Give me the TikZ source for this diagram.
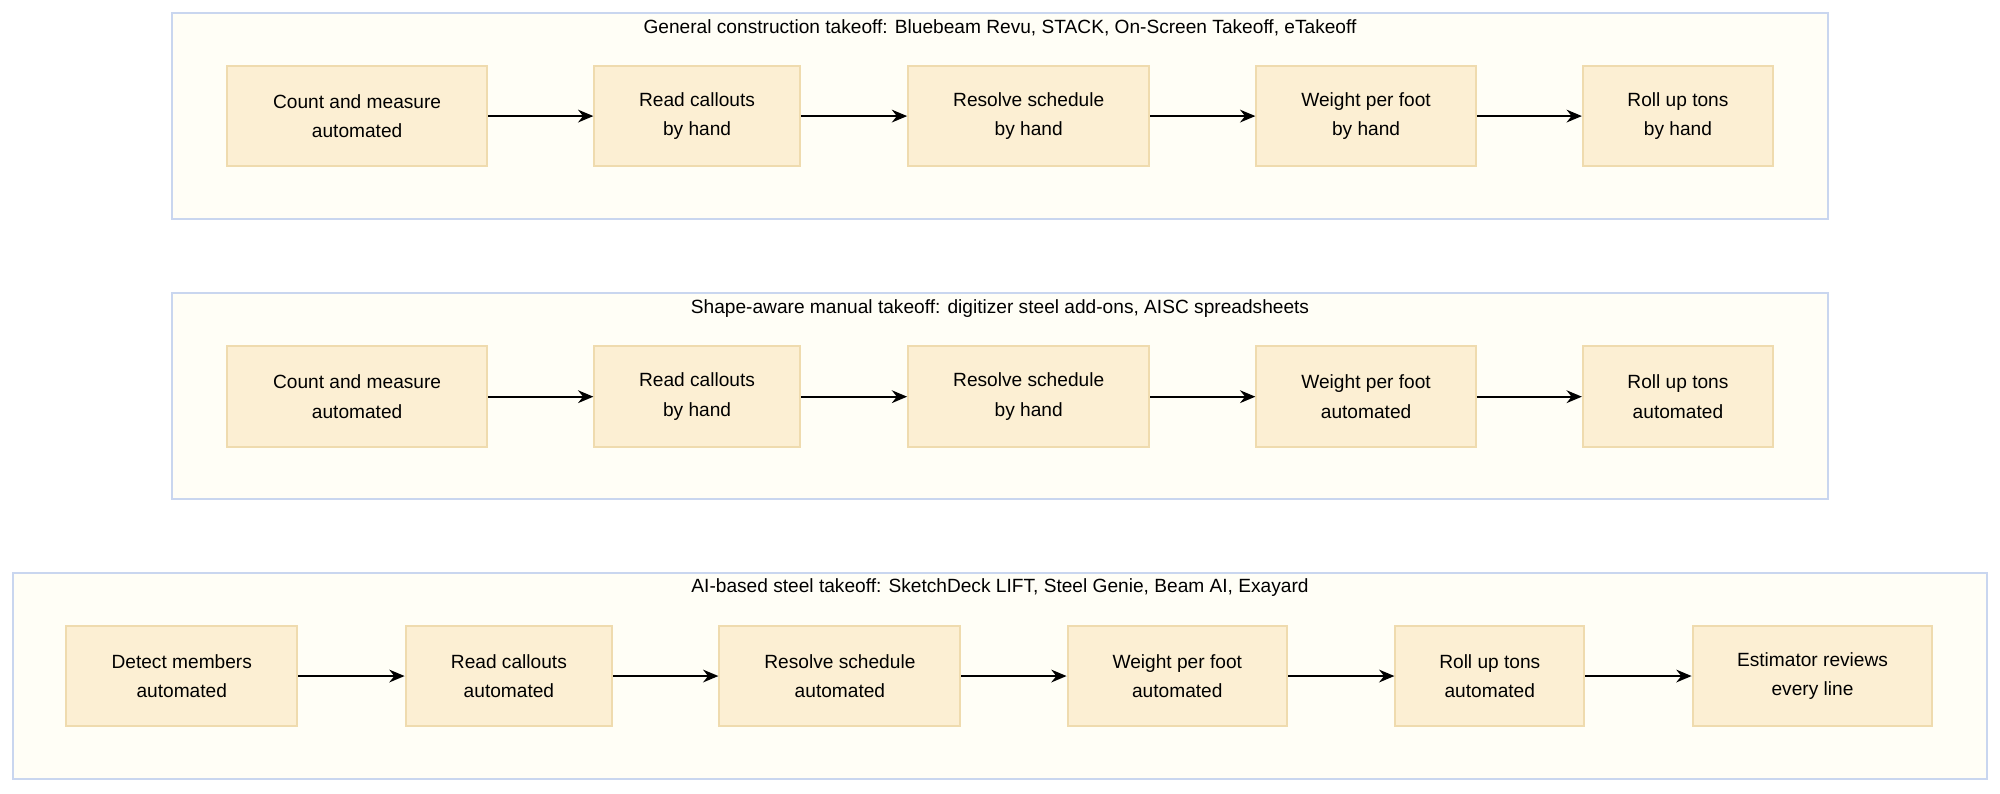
\documentclass[tikz,border=0pt]{standalone}
\usepackage{fontspec}
\setmainfont{Liberation Sans}
\usetikzlibrary{arrows.meta}
\definecolor{grpfill}{HTML}{FFFEF6}
\definecolor{grpline}{HTML}{C9D6EF}
\definecolor{stepfill}{HTML}{FCEFD3}
\definecolor{stepline}{HTML}{EFDBAE}
\tikzset{
  grp/.style={draw=grpline, fill=grpfill, line width=0.8pt},
  grptitle/.style={font=\fontsize{7.5}{9}\selectfont},
  stepbox/.style={draw=stepline, fill=stepfill, line width=0.8pt, minimum height=39.5pt,
    align=center, font=\fontsize{7.5}{11.5}\selectfont, inner sep=0pt},
  flow/.style={-{Stealth[length=6pt,width=5pt]}, line width=0.7pt},
}
\begin{document}
\begin{tikzpicture}[x=0.5pt, y=-0.5pt]
  \useasboundingbox (0,0) rectangle (1568,622);
  % groups
  \draw[grp] (135,10) rectangle (1433,172);
  \node[grptitle] (t1) at (784,22) {General construction takeoff: Bluebeam Revu, STACK, On-Screen Takeoff, eTakeoff};
  \draw[grp] (135,230) rectangle (1433,391);
  \node[grptitle] (t2) at (784,242) {Shape-aware manual takeoff: digitizer steel add-ons, AISC spreadsheets};
  \draw[grp] (10,449) rectangle (1558,611);
  \node[grptitle] (t3) at (784,461) {AI-based steel takeoff: SketchDeck LIFT, Steel Genie, Beam AI, Exayard};
  % row 1
  \node[stepbox, minimum width=102pt] (a1) at (280,91) {Count and measure\\automated};
  \node[stepbox, minimum width=80.5pt] (a2) at (546.5,91) {Read callouts\\by hand};
  \node[stepbox, minimum width=94.5pt] (a3) at (806.5,91) {Resolve schedule\\by hand};
  \node[stepbox, minimum width=86pt] (a4) at (1071,91) {Weight per foot\\by hand};
  \node[stepbox, minimum width=74.5pt] (a5) at (1315.5,91) {Roll up tons\\by hand};
  % row 2
  \node[stepbox, minimum width=102pt] (b1) at (280,311) {Count and measure\\automated};
  \node[stepbox, minimum width=80.5pt] (b2) at (546.5,311) {Read callouts\\by hand};
  \node[stepbox, minimum width=94.5pt] (b3) at (806.5,311) {Resolve schedule\\by hand};
  \node[stepbox, minimum width=86pt] (b4) at (1071,311) {Weight per foot\\automated};
  \node[stepbox, minimum width=74.5pt] (b5) at (1315.5,311) {Roll up tons\\automated};
  % row 3
  \node[stepbox, minimum width=90.5pt] (c1) at (142.5,530) {Detect members\\automated};
  \node[stepbox, minimum width=81pt] (c2) at (399,530) {Read callouts\\automated};
  \node[stepbox, minimum width=94.5pt] (c3) at (658.5,530) {Resolve schedule\\automated};
  \node[stepbox, minimum width=86pt] (c4) at (923,530) {Weight per foot\\automated};
  \node[stepbox, minimum width=74pt] (c5) at (1168,530) {Roll up tons\\automated};
  \node[stepbox, minimum width=94pt] (c6) at (1421,530) {Estimator reviews\\every line};
  % arrows
  \foreach \r in {a,b} {
    \foreach \i/\j in {1/2,2/3,3/4,4/5}
      \draw[flow] (\r\i) -- (\r\j);
  }
  \foreach \i/\j in {1/2,2/3,3/4,4/5,5/6}
    \draw[flow] (c\i) -- (c\j);
\end{tikzpicture}
\end{document}
